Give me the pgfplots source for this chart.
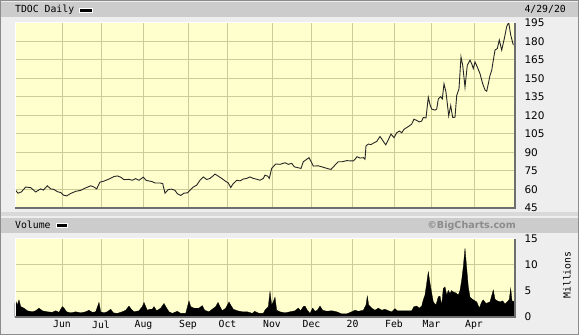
\documentclass[border=0pt]{standalone}
\usepackage{pgfplots}
\pgfplotsset{compat=1.18}
\usepackage{fontspec}
\setmainfont{DejaVu Sans}
\newfontfamily\mono{DejaVu Sans Mono}
\definecolor{plotbg}{RGB}{255,255,206}
\definecolor{gridc}{RGB}{204,204,150}
\definecolor{outerbg}{RGB}{238,238,238}
\definecolor{barbg}{RGB}{204,204,204}
\definecolor{bevel}{RGB}{110,110,110}
\pgfplotstableread{
x y
15 60
15.7 59.3
18 57
21.3 58
25.7 62
30.7 61.5
35.7 58
40.7 60.5
43.3 59.5
47.3 63
50.7 60.5
54 60
57.3 58.3
60.7 57.5
63.3 55.5
66.7 54.8
70.7 56.8
75.7 58.5
80.7 59.3
85.7 61.3
90.7 63
94 62
96.7 60.5
100 66
104 66.8
109 68.5
114 70.5
117.3 71
120.7 70
124 68
129 68.2
132.3 67.5
135.7 68.8
139 67.5
143.3 70
146 67.5
148.3 67
151.7 66.5
155 65.3
160 65.3
162.7 64.8
165 57
168.3 60
171.7 60.3
175 59.3
177.3 56.6
180.7 55.2
184 57
187.3 57.3
190 59.3
193.3 62
196.7 63.5
200 67.5
203.3 70.2
206.7 68.1
210 69
212.7 70.8
215 72.5
218.3 70.8
221.7 69
225 67
228.3 65.3
230.7 61.6
233.3 64.8
236.7 67.5
240 67
243.3 68.5
246.7 69
250 70.2
253.3 69
256.7 68.3
260 67.5
263.3 69
265 71.6
267.7 70.8
269.3 69
271.7 77.1
275.7 80.7
280 80.4
285 81.7
288.3 80.4
291.7 81.2
294.3 78.4
298.3 77.6
301 77.1
303.3 82.5
305.7 83.9
309 85.8
311.7 81.7
313.3 79
318.3 79.2
323.3 78
328.3 76.8
331 76.3
335 79.8
338.3 82.5
342.3 82.5
346.7 83.4
351 83.2
353.3 83.2
355 84.5
357 86.6
360 85.5
363.3 85.8
365 84.5
366 95.4
368.3 96.8
371 96.4
373.3 97.6
376.7 98.9
380 103
382.3 100.3
385.7 96.2
388.3 100.3
391 105
394 102
396.7 106
399.3 107.4
401.7 106
404 108.8
406.7 110.2
409.3 111.6
411.7 113
414 117
416.7 116
419.3 114.8
421.7 115.5
423.3 118.4
426 118
428.3 134.8
430 128.8
431.7 125.2
435 124.4
436.7 125.2
438.3 133.4
440.7 135.3
442.3 133.4
444 145.7
446 138.9
448.7 119.8
450.7 128
452.7 118.4
455 118.6
456.7 136.2
459 141.6
461 167.5
462.7 160.7
465 143
467.3 160.7
470 164.8
471.7 162
473.3 158
475 163.4
477.3 159.3
480 153.9
482.7 145.7
485 140.7
486.7 139.7
488.3 145.7
490 152.5
491.7 156.6
493.3 164.8
495 173
497.3 174.3
499.3 181.2
501.7 173
504 181.2
506.7 192.1
508.7 195.4
510.7 185.3
513.3 177.1
}\price
\pgfplotstableread{
x v
15 2.6
15.7 3.1
17.3 2.3
19 3.3
20.7 2.0
24 1.7
27.3 1.2
32.3 1.0
35.7 1.2
39 1.7
42.3 1.2
47.3 1.0
52.3 0.9
55.7 1.2
59 0.9
62.3 2.0
64 1.7
66.7 1.0
70.7 0.8
75.7 1.0
80.7 0.8
85.7 1.0
89 1.3
92.3 0.9
95.7 1.0
99 2.8
100.7 1.0
104 0.8
107.3 1.0
110.7 1.5
113.3 0.8
117.3 0.7
122.3 1.0
125.7 1.3
129 2.1
131.3 1.5
134 1.0
139 1.2
142.3 2.0
144 2.8
145.7 2.0
147.3 1.3
150 1.5
152.3 1.5
154 2.0
156.7 1.2
160.7 1.7
164 2.6
166.7 1.7
169 1.0
172.3 0.7
177.3 1.1
180.7 0.7
185.7 0.7
189 3.1
190.7 2.0
194 1.7
199 1.7
202.3 2.2
204.7 1.3
209 1.0
212.3 1.5
215.7 2.0
218 2.8
220 2.0
222.3 1.2
225.7 1.7
229 2.9
230.7 2.3
233.3 1.5
237.3 1.2
242.3 1.0
247.3 1.0
252.3 0.7
254.7 1.1
259 0.7
263.3 0.7
265 1.3
268.3 2.0
270 4.9
271.7 2.3
273.3 2.9
275 3.8
276.7 1.3
280 1.0
285 0.8
290 1.0
295 1.2
298.3 1.7
300.7 1.2
303.3 2.0
305 2.1
307.3 1.3
310 0.7
312.7 1.7
315 1.1
317.3 1.3
320 2.1
322.7 1.3
326.7 1.1
331.7 1.2
336.7 1.0
341.7 0.6
346.7 0.6
351.7 1.0
355 1.3
358.3 1.1
363.3 1.3
366 2.3
367.3 4.0
368.7 2.3
371.7 1.7
375 1.3
378.3 1.7
381.7 1.3
385 1.5
388.3 1.2
391.7 1.0
395 1.6
397.3 1.2
401.7 1.2
406.7 1.2
411.7 1.2
414 2.0
416.7 2.1
419.3 1.7
421.7 2.1
423.3 3.3
425 4.2
426.7 6.5
428.3 8.7
430 6.5
431.7 4.6
433.3 2.9
436 2.3
438.3 3.9
440 4.0
441.7 2.3
443.3 5.5
445 5.8
446.7 4.2
448.3 5.1
450 4.5
451.7 5.1
453.3 4.8
455 4.7
456.7 4.5
458.3 4.2
460 5.1
461.7 7.1
463.3 9.7
465 13.2
466.7 9.4
468.3 5.8
470 3.8
473.3 3.3
476.7 2.9
479.3 1.7
481.7 2.9
483.3 3.3
486 2.6
490 2.9
493.3 5.2
495 3.4
497.3 3.1
500 2.9
502.7 3.1
505 2.5
507.3 2.9
509.3 3.4
510.7 5.5
512 3.1
514 3.0
}\volume
\begin{document}
\begin{tikzpicture}
% page background and bars
\fill[outerbg] (0pt,0pt) rectangle (579pt,335pt);
\fill[barbg] (1pt,318pt) rectangle (578pt,333pt);
\fill[barbg] (1pt,102pt) rectangle (578pt,117pt);
\fill[black!15] (1pt,119pt) rectangle (578pt,123pt);
\draw[black!45, line width=1pt] (0.5pt,0.5pt) rectangle (578.5pt,334.5pt);
% titles
\node[font=\mono\fontsize{9.8}{11}\selectfont, anchor=base west, inner sep=0pt] at (15pt,322pt) {TDOC Daily};
\fill[black, draw=white, line width=0.6pt] (79pt,323pt) rectangle (92pt,327pt);
\node[font=\mono\fontsize{9.8}{11}\selectfont, anchor=base east, inner sep=0pt] at (566pt,322pt) {4/29/20};
\node[font=\mono\fontsize{9.8}{11}\selectfont, anchor=base west, inner sep=0pt] at (15pt,106pt) {Volume};
\fill[black, draw=white, line width=0.6pt] (56pt,107.5pt) rectangle (67pt,111.5pt);
\node[font=\bfseries\fontsize{9.6}{11}\selectfont, text=black!45, anchor=base east, inner sep=0pt] at (516pt,106pt) {©BigCharts.com};
\node[font=\mono\fontsize{9.8}{11}\selectfont, rotate=90, inner sep=0pt] at (567pt,60pt) {Millions};
% price panel
\begin{axis}[
  at={(15pt,127pt)}, anchor=south west, scale only axis,
  width=500pt, height=185pt,
  xmin=15, xmax=515, ymin=45, ymax=195,
  axis background/.style={fill=plotbg},
  axis line style={draw=none},
  major tick length=0pt,
  xtick={62,101,143.5,188,227.5,272,311.5,352.5,394,431.5,474},
  xticklabels={},
  ytick={45,60,...,195},
  yticklabel pos=right,
  yticklabel style={font=\fontsize{10.5}{12}\selectfont, anchor=west, xshift=6pt},
  /pgf/number format/assume math mode=true,
  grid=major, major grid style={gridc, line width=1pt},
  clip=true,
]
\addplot[black!85, line width=0.9pt] table[x=x,y=y] {\price};
\end{axis}
\draw[white, line width=1pt] (15pt,127pt) -- (15pt,312pt) -- (515pt,312pt);
\draw[bevel, line width=1.2pt] (15pt,127pt) -- (515pt,127pt) -- (515pt,312pt);
% volume panel
\begin{axis}[
  at={(15pt,18pt)}, anchor=south west, scale only axis,
  width=500pt, height=78pt,
  xmin=15, xmax=515, ymin=0, ymax=15,
  axis background/.style={fill=plotbg},
  axis line style={draw=none},
  major tick length=0pt,
  xtick={62,101,143.5,188,227.5,272,311.5,352.5,394,431.5,474},
  xticklabels={Jun,Jul,Aug,Sep,Oct,Nov,Dec,20,Feb,Mar,Apr},
  xticklabel style={font=\mono\fontsize{9.8}{11}\selectfont},
  ytick={0,5,10,15},
  yticklabel pos=right,
  yticklabel style={font=\fontsize{10.5}{12}\selectfont, anchor=west, xshift=6pt},
  /pgf/number format/assume math mode=true,
  grid=major, major grid style={gridc, line width=1pt},
  clip=true,
]
\addplot[fill=black, draw=black, line width=0.3pt] table[x=x,y=v] {\volume} \closedcycle;
\end{axis}
\draw[white, line width=1pt] (15pt,18pt) -- (15pt,96pt) -- (515pt,96pt);
\draw[bevel, line width=1.2pt] (15pt,18pt) -- (515pt,18pt) -- (515pt,96pt);
\pgfresetboundingbox
\useasboundingbox (0pt,0pt) rectangle (579pt,335pt);
\end{tikzpicture}
\end{document}
